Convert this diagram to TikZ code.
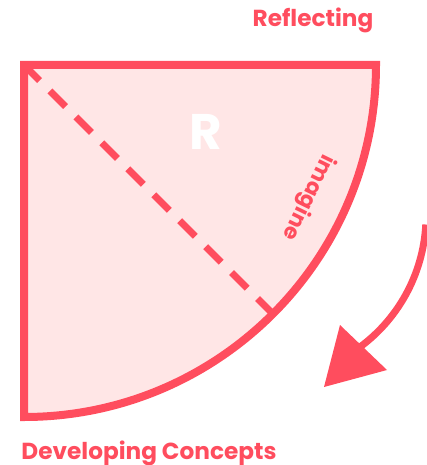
\documentclass[tikz,border=0pt]{standalone}
\usepackage{fontspec}
\usetikzlibrary{calc}
\setmainfont{Poppins}
\definecolor{coral}{HTML}{FF4D5E}
\definecolor{blush}{HTML}{FFE6E6}
\tikzset{
  quarter/.style={draw=coral, fill=blush, line width=8pt, line join=miter},
  diagline/.style={draw=coral, line width=7pt, dash pattern=on 22pt off 14.7pt},
  arrowline/.style={draw=coral, line width=7pt},
  arrowhead/.style={fill=coral},
  label/.style={text=coral, font=\bfseries\fontsize{23.2}{28}\selectfont, inner sep=0pt},
}
\begin{document}
\begin{tikzpicture}[x=1pt,y=1pt]
\useasboundingbox (0,0) rectangle (427,-465);
\clip (0,0) rectangle (427,-465);
\coordinate (O) at (24,-65);
\coordinate (TR) at (376,-65);
\filldraw[quarter] (O) -- (TR) arc[start angle=0,end angle=-90,radius=352] -- cycle;
\coordinate (D) at ($(O)+(-45:352)$);
\draw[diagline] (O) -- (D);
\node[text=white, font=\bfseries\fontsize{50}{60}\selectfont, inner sep=0pt] (r) at (206,-132) {R};
\node[text=coral, font=\bfseries\fontsize{21.5}{26}\selectfont, inner sep=0pt, rotate=-116] (im) at (308,-197) {imagine};
\node[label, anchor=base] (refl) at (313,-27) {Reflecting};
\node[label, anchor=base] (dev) at (149,-459) {Developing Concepts};
\coordinate (AC) at (263,-216);
\draw[arrowline] ($(AC)+(-3:163)$) arc[start angle=-3,end angle=-55,radius=163];
\coordinate (tip) at (324,-387);
\coordinate (b1) at (340,-325);
\coordinate (b2) at (387,-370);
\fill[arrowhead] (tip) -- (b1) -- (b2) -- cycle;
\end{tikzpicture}
\end{document}
